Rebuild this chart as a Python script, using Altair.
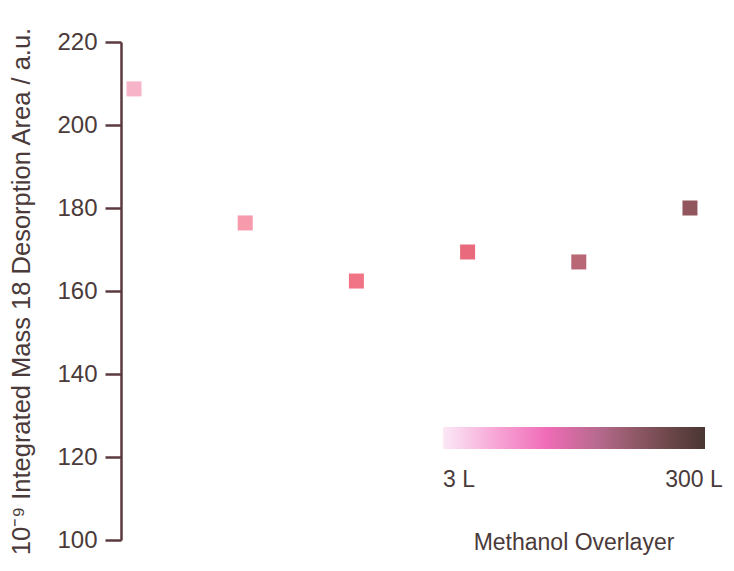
import altair as alt
import pandas as pd

# Data
sample = [1, 2, 3, 4, 5, 6]
area = [208.7, 176.4, 162.4, 169.4, 167.0, 180.0]
point_colors = ["#f7b3c8", "#f79aab", "#f07485", "#ea6a7d", "#b96676", "#92565f"]

legend_dose = [3, 300]
legend_domain = [3, 367]
legend_labels = ["3 L", "300 L"]
gradient_colors = ["#fbe8f5", "#f7a6d6", "#f06ab7", "#b46a8d", "#7d5058", "#4a3632"]

y_ticks = [100, 120, 140, 160, 180, 200, 220]

df = pd.DataFrame({"sample": sample, "area": area})
leg = pd.DataFrame({"dose": legend_dose})

FONT = "Liberation Sans"
TXT = "#4a3a3a"
AX = "#5a3a40"

x_enc = alt.X("sample:Q", scale=alt.Scale(domain=[0.883, 6.324], nice=False, zero=False), axis=None)
y_enc = alt.Y(
    "area:Q",
    scale=alt.Scale(domain=[100, 220], nice=False, zero=False),
    axis=alt.Axis(
        values=y_ticks,
        title="10⁻⁹ Integrated Mass 18 Desorption Area / a.u.",
        titleFontSize=25.5,
        titleFontWeight="normal",
        titleColor=TXT,
        titleFont=FONT,
        titlePadding=22,
        titleLimit=1000,
        labelFontSize=24,
        labelColor=TXT,
        labelFont=FONT,
        labelPadding=8,
        domainColor=AX,
        domainWidth=2.5,
        tickColor=AX,
        tickWidth=2.5,
        tickSize=16,
        grid=False,
    ),
)

points = alt.Chart(df).mark_square(size=225, opacity=1).encode(
    x=x_enc,
    y=y_enc,
    color=alt.Color(
        "sample:N",
        scale=alt.Scale(domain=sample, range=point_colors),
        legend=None,
    ),
)

label_expr = "datum.value <= 3 ? '%s' : '%s'" % (legend_labels[0], legend_labels[1])

legend_layer = alt.Chart(leg).mark_point(size=0, opacity=1, filled=True).encode(
    x=alt.value(0),
    y=alt.value(0),
    color=alt.Color(
        "dose:Q",
        scale=alt.Scale(type="log", domain=legend_domain, range=gradient_colors),
        legend=alt.Legend(
            orient="none",
            legendX=322,
            legendY=385,
            direction="horizontal",
            gradientLength=262,
            gradientThickness=22,
            gradientStrokeWidth=0,
            gradientOpacity=1,
            values=legend_dose,
            labelExpr=label_expr,
            labelFontSize=23,
            labelFont=FONT,
            labelColor=TXT,
            labelOffset=20,
            title="Methanol Overlayer",
            titleOrient="bottom",
            titleAnchor="middle",
            titleAlign="center",
            titleFontSize=23,
            titleFontWeight="normal",
            titleFont=FONT,
            titleColor=TXT,
            titlePadding=40,
            titleLimit=1000,
            padding=0,
        ),
    ),
)

chart = (
    alt.layer(points, legend_layer)
    .resolve_scale(color="independent")
    .properties(
        width=605,
        height=498,
        autosize=alt.AutoSizeParams(type="none"),
        padding={"left": 113, "top": 34, "right": 0, "bottom": 23},
        background="white",
    )
    .configure_view(stroke=None)
)

chart.save("out.html", embed_options={"renderer": "svg", "actions": False})
